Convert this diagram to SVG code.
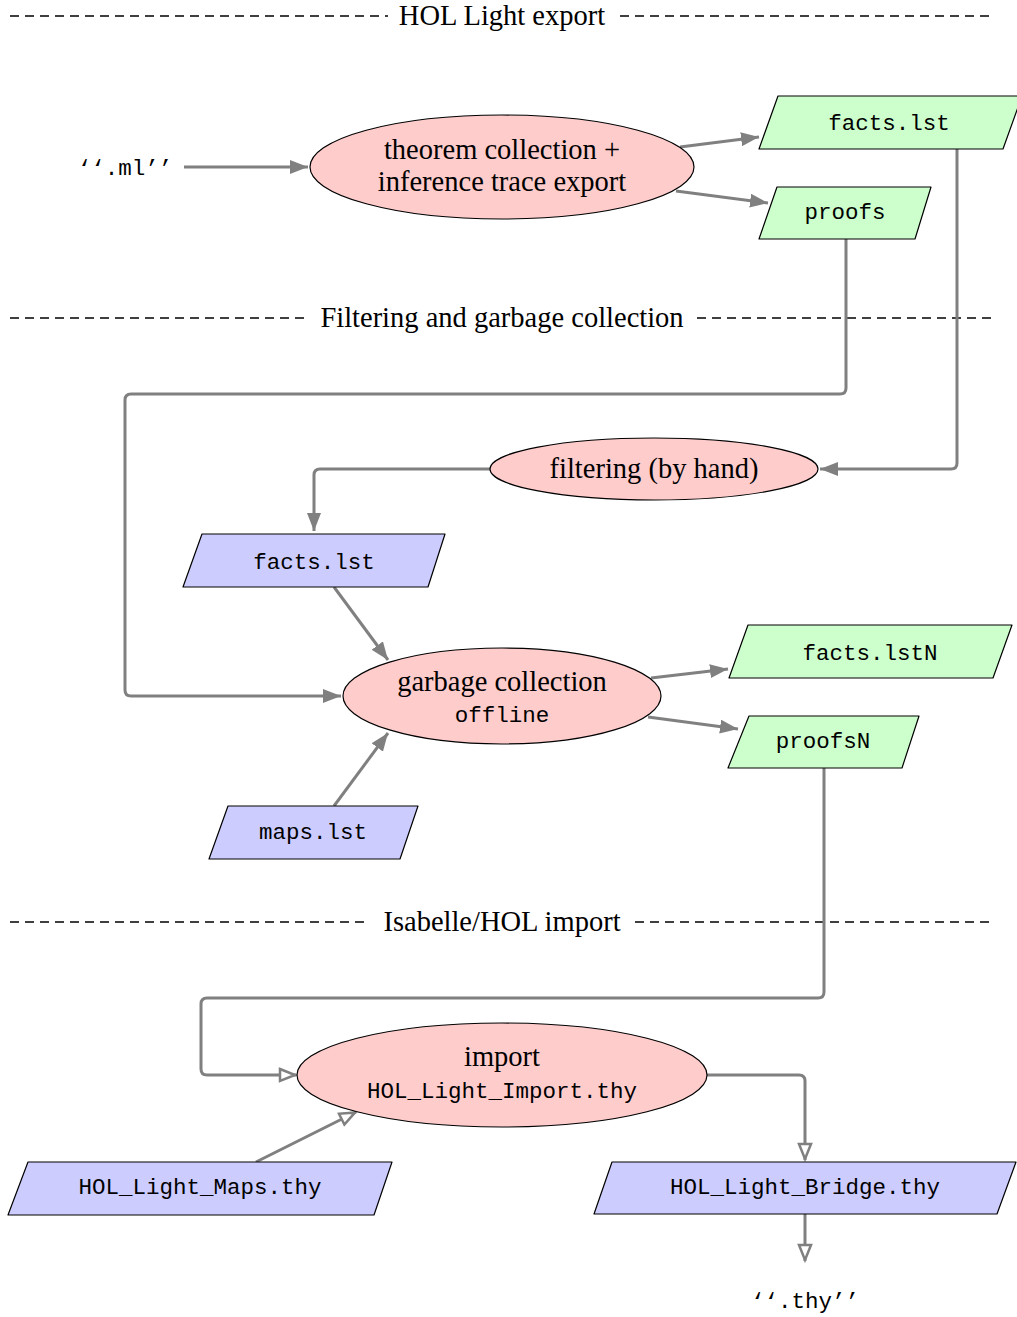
<svg xmlns="http://www.w3.org/2000/svg" width="1017" height="1317" viewBox="0 0 1017 1317">
<style>
.sec{stroke:#000;stroke-width:1.6;stroke-dasharray:9 6;fill:none}
.serif{font-family:"Liberation Serif","DejaVu Serif",serif;font-size:28.5px;fill:#000;text-anchor:middle}
.mono{font-family:"Liberation Mono","DejaVu Sans Mono",monospace;font-size:22.5px;fill:#000;text-anchor:middle}
.pink{fill:#ffcccc;stroke:#000;stroke-width:1.2}
.green{fill:#ccffcc;stroke:#000;stroke-width:1.2;stroke-linejoin:round}
.blue{fill:#ccccff;stroke:#000;stroke-width:1.2;stroke-linejoin:round}
.c{fill:none;stroke:#808080;stroke-width:3}
.cf{marker-end:url(#ah)}
.co{marker-end:url(#ao)}
</style>
<defs>
<marker id="ah" markerUnits="userSpaceOnUse" markerWidth="20" markerHeight="14" refX="18" refY="7" orient="auto">
<path d="M0,0 L18,7 L0,14 z" fill="#808080"/>
</marker>
<marker id="ao" markerUnits="userSpaceOnUse" markerWidth="22" markerHeight="16" refX="18" refY="8" orient="auto">
<path d="M2,2 L17,8 L2,14 z" fill="#fff" stroke="#808080" stroke-width="2.5" stroke-linejoin="miter"/>
</marker>
</defs>
<rect width="1017" height="1317" fill="#fff"/>

<g id="sections">
<line class="sec" x1="10" y1="16" x2="388" y2="16"/>
<text class="serif" x="502" y="25">HOL Light export</text>
<line class="sec" x1="620" y1="16" x2="995" y2="16"/>
<line class="sec" x1="10" y1="318" x2="307" y2="318"/>
<text class="serif" x="502" y="327">Filtering and garbage collection</text>
<line class="sec" x1="697" y1="318" x2="995" y2="318"/>
<line class="sec" x1="10" y1="922" x2="370" y2="922"/>
<text class="serif" x="502" y="931">Isabelle/HOL import</text>
<line class="sec" x1="635" y1="922" x2="995" y2="922"/>
</g>

<g id="connectors">
<path class="c cf" d="M184,167 H308"/>
<path class="c cf" d="M680,147 L759,137"/>
<path class="c cf" d="M676,191 L768,203"/>
<path class="c cf" d="M957,149 V463 Q957,469 951,469 H820"/>
<path class="c cf" d="M846,239 V388 Q846,394 840,394 H131 Q125,394 125,400 V690 Q125,696 131,696 H341"/>
<path class="c cf" d="M490,469 H320 Q314,469 314,475 V531"/>
<path class="c cf" d="M334,587 L388,660"/>
<path class="c cf" d="M334,806 L388,733"/>
<path class="c cf" d="M651,678 L728,669"/>
<path class="c cf" d="M648,717 L738,729"/>
<path class="c co" d="M824,768 V992 Q824,998 818,998 H207 Q201,998 201,1004 V1069 Q201,1075 207,1075 H296"/>
<path class="c co" d="M256,1162 L356,1112"/>
<path class="c co" d="M707,1075 H799 Q805,1075 805,1081 V1160"/>
<path class="c co" d="M805,1214 V1261"/>
</g>

<g id="ml">
<text class="mono" x="125" y="175">‘‘.ml’’</text>
</g>

<g id="export">
<ellipse class="pink" cx="502" cy="167" rx="192" ry="52"/>
<text class="serif" x="502" y="159">theorem collection +</text>
<text class="serif" x="502" y="191">inference trace export</text>
</g>

<g id="facts1">
<path class="green" d="M778,96 H1022 L1003,149 H759 Z"/>
<text class="mono" x="889" y="130">facts.lst</text>
</g>

<g id="proofs1">
<path class="green" d="M777,187 H931 L915,239 H759 Z"/>
<text class="mono" x="845" y="219">proofs</text>
</g>

<g id="filtering">
<ellipse class="pink" cx="654" cy="469" rx="164" ry="31"/>
<text class="serif" x="654" y="478">filtering (by hand)</text>
</g>

<g id="facts2">
<path class="blue" d="M202,534 H445 L428,587 H183 Z"/>
<text class="mono" x="314" y="569">facts.lst</text>
</g>

<g id="gc">
<ellipse class="pink" cx="502" cy="696" rx="159" ry="48"/>
<text class="serif" x="502" y="691">garbage collection</text>
<text class="mono" x="502" y="722">offline</text>
</g>

<g id="factsN">
<path class="green" d="M748,625 H1012 L993,678 H729 Z"/>
<text class="mono" x="870" y="660">facts.lstN</text>
</g>

<g id="proofsN">
<path class="green" d="M749,716 H919 L902,768 H728 Z"/>
<text class="mono" x="823" y="748">proofsN</text>
</g>

<g id="maps">
<path class="blue" d="M228,806 H418 L400,859 H209 Z"/>
<text class="mono" x="313" y="839">maps.lst</text>
</g>

<g id="import">
<ellipse class="pink" cx="502" cy="1075" rx="205" ry="52"/>
<text class="serif" x="502" y="1066">import</text>
<text class="mono" x="502" y="1098">HOL_Light_Import.thy</text>
</g>

<g id="mapsthy">
<path class="blue" d="M28,1162 H392 L374,1215 H8 Z"/>
<text class="mono" x="200" y="1194">HOL_Light_Maps.thy</text>
</g>

<g id="bridge">
<path class="blue" d="M612,1162 H1016 L997,1214 H594 Z"/>
<text class="mono" x="805" y="1194">HOL_Light_Bridge.thy</text>
</g>

<g id="thy">
<text class="mono" x="805" y="1308">‘‘.thy’’</text>
</g>
</svg>
